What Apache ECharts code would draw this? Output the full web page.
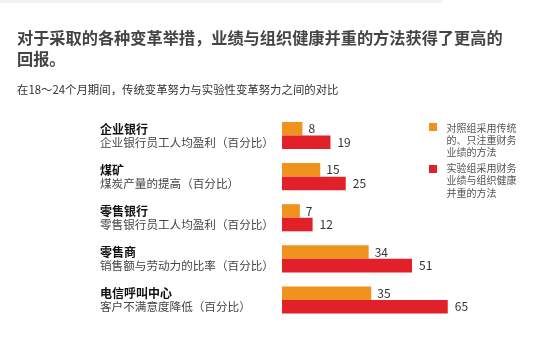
<!DOCTYPE html>
<html>
<head>
<meta charset="utf-8">
<script src="https://cdn.jsdelivr.net/npm/echarts@6/dist/echarts.min.js"></script>
<style>
html,body{margin:0;padding:0;background:#fff;}
#c{width:549px;height:338px;}
</style>
</head>
<body>
<div id="c"></div>
<script>
var titleText = '对于采取的各种变革举措，业绩与组织健康并重的方法获得了更高的\n回报。';
var subtitleText = '在18～24个月期间，传统变革努力与实验性变革努力之间的对比';
var categories = ['企业银行', '煤矿', '零售银行', '零售商', '电信呼叫中心'];
var subLabels = ['企业银行员工人均盈利（百分比）', '煤炭产量的提高（百分比）', '零售银行员工人均盈利（百分比）', '销售额与劳动力的比率（百分比）', '客户不满意度降低（百分比）'];
var traditional = [8, 15, 7, 34, 35];
var experimental = [19, 25, 12, 51, 65];
var legendNames = ['对照组采用传统\n的、只注重财务\n业绩的方法', '实验组采用财务\n业绩与组织健康\n并重的方法'];

var FONT = '"Noto Sans CJK SC", "Noto Sans", sans-serif';
var ORANGE = '#F0921E';
var RED = '#E2202A';

var chart = echarts.init(document.getElementById('c'), null, {renderer: 'canvas'});
chart.setOption({
  backgroundColor: '#fff',
  animation: false,
  textStyle: {fontFamily: FONT},
  title: [
    {text: titleText, left: 12, top: 22,
     textStyle: {fontFamily: FONT, fontSize: 16.2, fontWeight: 'bold', color: '#444', lineHeight: 21}},
    {text: subtitleText, left: 12, top: 78,
     textStyle: {fontFamily: FONT, fontSize: 11.4, fontWeight: 'normal', color: '#333', lineHeight: 14}}
  ],
  graphic: [
    {type: 'rect', shape: {x: 0, y: 0, width: 442, height: 3}, style: {fill: '#f2f2f2'}},
    {type: 'rect', shape: {x: 429, y: 123, width: 8, height: 8}, style: {fill: ORANGE}},
    {type: 'text', x: 446.5, y: 122.3, style: {text: legendNames[0], font: '10px ' + FONT, fill: '#555', lineHeight: 11.9, verticalAlign: 'top'}},
    {type: 'rect', shape: {x: 429, y: 165, width: 8, height: 8}, style: {fill: RED}},
    {type: 'text', x: 446.5, y: 162.1, style: {text: legendNames[1], font: '10px ' + FONT, fill: '#555', lineHeight: 12.4, verticalAlign: 'top'}}
  ],
  grid: {left: 282, top: 115, width: 255, height: 205.5},
  xAxis: {type: 'value', min: 0, max: 100, show: false},
  yAxis: {
    type: 'category', inverse: true, data: categories,
    axisLine: {show: false}, axisTick: {show: false},
    axisLabel: {
      align: 'left', margin: 182,
      formatter: function (v, i) { return '{a|' + v + '}\n{b|' + subLabels[i] + '}'; },
      rich: {
        a: {fontFamily: FONT, fontSize: 12, fontWeight: 'bold', color: '#111', lineHeight: 14},
        b: {fontFamily: FONT, fontSize: 11.6, color: '#444', lineHeight: 13}
      }
    }
  },
  series: [
    {name: legendNames[0], type: 'bar', data: traditional, barGap: '0%', barCategoryGap: '34%',
     itemStyle: {color: ORANGE},
     label: {show: true, position: 'right', distance: 6, fontFamily: FONT, fontSize: 12, color: '#333'}},
    {name: legendNames[1], type: 'bar', data: experimental, barGap: '0%', barCategoryGap: '34%',
     itemStyle: {color: RED},
     label: {show: true, position: 'right', distance: 7, fontFamily: FONT, fontSize: 12, color: '#333'}}
  ]
});
</script>
</body>
</html>
